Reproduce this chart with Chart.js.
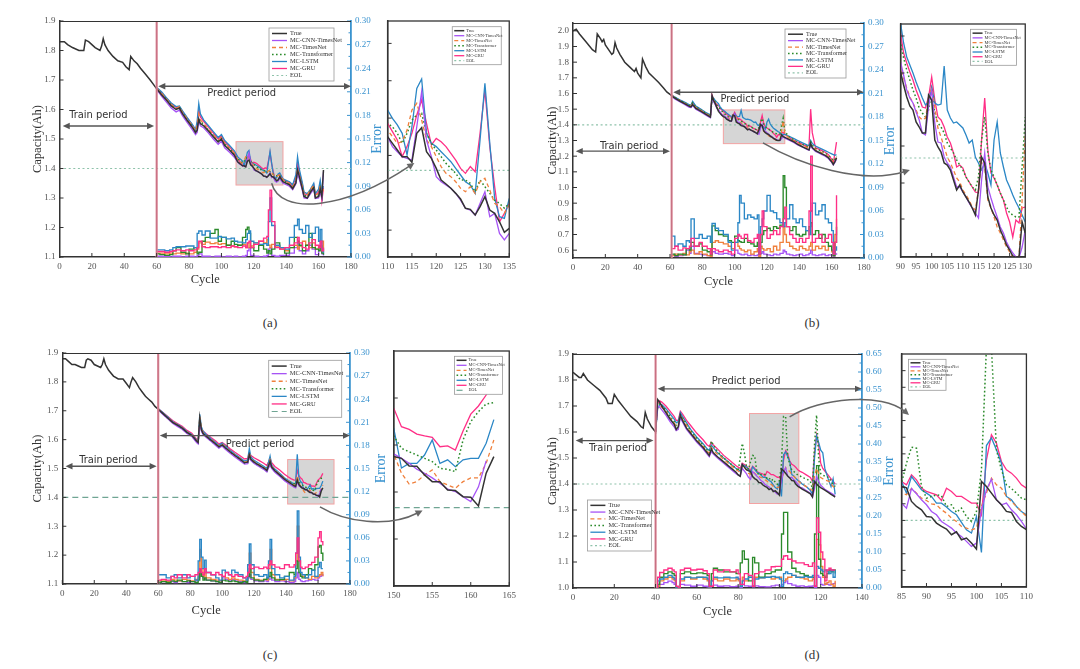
<!DOCTYPE html>
<html><head><meta charset="utf-8">
<script src="https://cdn.jsdelivr.net/npm/chart.js@4.4.1/dist/chart.umd.min.js"></script>
<style>
html,body{margin:0;padding:0;background:#fff;}
#wrap{position:relative;width:1080px;height:669px;overflow:hidden;background:#fff;}
.cap{position:absolute;font-family:"Liberation Serif","Times New Roman",serif;font-size:13px;color:#333;transform:translate(-50%,-50%);}
</style></head><body>
<div id="wrap">
<div class="cap" style="left:270px;top:323px">(a)</div>
<div class="cap" style="left:812px;top:323px">(b)</div>
<div class="cap" style="left:270px;top:655px">(c)</div>
<div class="cap" style="left:812px;top:655px">(d)</div>
</div>
<script>
// ---------------- common ----------------
const EOL = 1.4;
const NAMES = ['True','MC-CNN-TimesNet','MC-TimesNet','MC-Transformer','MC-LSTM','MC-GRU','EOL'];

// ---------------- panel (a) ----------------
const aTrainCyc = [0,3,5,8,12,15,16,18,20,22,25,26,27,28,30,33,36,39,41,43,44,46,48,50,53,56,58];
const aTrainCap = [1.83,1.83,1.82,1.81,1.80,1.80,1.835,1.83,1.82,1.81,1.80,1.815,1.84,1.82,1.80,1.78,1.765,1.76,1.745,1.735,1.78,1.765,1.755,1.74,1.72,1.70,1.685];
const aCyc = [60,63,66,69,72,74,76,79,82,84,85,86,87,89,92,95,98,100,102,105,108,
 110,111,112,113,114,115,116,117,118,119,120,121,122,123,124,125,126,127,128,129,130,131,132,133,134,135,
 136,138,140,142,144,146,147,148,150,151,153,155,157,158,160,161,162,163];
const aTrue = [1.670,1.650,1.632,1.612,1.600,1.605,1.585,1.562,1.540,1.522,1.530,1.568,1.552,1.545,1.527,1.508,1.490,1.500,1.478,1.463,1.445,
 1.4226,1.4181,1.4136,1.4092,1.4092,1.4054,1.4248,1.4286,1.4125,1.4080,1.4013,1.3935,1.3909,1.3880,1.3846,1.3808,1.3746,1.3739,1.3701,1.3757,1.3824,1.3734,1.3712,1.3656,1.3585,1.3612,
 1.372,1.355,1.350,1.345,1.332,1.352,1.395,1.375,1.330,1.305,1.300,1.320,1.335,1.300,1.305,1.330,1.305,1.395];
const aCNN = [1.668,1.645,1.625,1.605,1.592,1.598,1.578,1.555,1.532,1.515,1.522,1.560,1.545,1.538,1.520,1.500,1.482,1.492,1.470,1.455,1.438,
 1.4226,1.4159,1.4125,1.4092,1.4080,1.4069,1.4292,1.4527,1.4203,1.4092,1.3958,1.3924,1.3902,1.3880,1.3846,1.3801,1.3746,1.3734,1.3701,1.3779,1.3857,1.3690,1.3712,1.3578,1.3534,1.3578,
 1.366,1.350,1.345,1.340,1.328,1.348,1.385,1.365,1.325,1.300,1.298,1.315,1.330,1.298,1.300,1.320,1.300,1.390];
const aTN = [1.672,1.655,1.636,1.617,1.604,1.610,1.590,1.567,1.545,1.527,1.545,1.585,1.565,1.552,1.533,1.514,1.496,1.505,1.485,1.470,1.452,
 1.4270,1.4226,1.4181,1.4192,1.4270,1.4404,1.4449,1.4337,1.4203,1.4159,1.4092,1.4025,1.3980,1.3958,1.3924,1.3880,1.3857,1.3891,1.3846,1.3924,1.3947,1.3868,1.3779,1.3757,1.3712,1.3768,
 1.378,1.362,1.356,1.350,1.338,1.360,1.400,1.380,1.338,1.315,1.310,1.330,1.342,1.310,1.315,1.340,1.315,1.330];
const aTF = [1.671,1.653,1.634,1.615,1.602,1.607,1.588,1.565,1.543,1.525,1.535,1.570,1.560,1.550,1.530,1.512,1.494,1.503,1.483,1.468,1.450,
 1.4315,1.4292,1.4248,1.4181,1.4248,1.4337,1.4371,1.4382,1.4248,1.4181,1.4136,1.4092,1.4047,1.4013,1.3980,1.3935,1.3935,1.3913,1.3857,1.3935,1.3891,1.3846,1.3801,1.3779,1.3746,1.3779,
 1.376,1.360,1.354,1.348,1.336,1.358,1.390,1.375,1.335,1.310,1.305,1.325,1.340,1.305,1.310,1.335,1.310,1.320];
const aLSTM = [1.675,1.660,1.640,1.622,1.610,1.612,1.595,1.572,1.550,1.532,1.560,1.620,1.585,1.565,1.545,1.525,1.505,1.515,1.495,1.478,1.460,
 1.4404,1.4348,1.4304,1.4248,1.4103,1.4292,1.4549,1.4612,1.4248,1.4181,1.4159,1.4125,1.4092,1.4058,1.4013,1.3969,1.3924,1.3902,1.3846,1.4203,1.4583,1.4181,1.3813,1.3690,1.3679,1.3813,
 1.385,1.365,1.360,1.355,1.345,1.380,1.440,1.400,1.350,1.320,1.315,1.330,1.350,1.315,1.330,1.360,1.320,1.340];
const aGRU = [1.673,1.657,1.638,1.620,1.607,1.610,1.592,1.570,1.548,1.530,1.550,1.600,1.575,1.560,1.540,1.520,1.500,1.510,1.490,1.473,1.455,
 1.4315,1.4259,1.4203,1.4092,1.4159,1.4248,1.4371,1.4471,1.4315,1.4170,1.4214,1.4192,1.4159,1.4114,1.4069,1.4013,1.3980,1.4025,1.3991,1.4248,1.4538,1.4159,1.3891,1.3656,1.3712,1.3779,
 1.380,1.362,1.357,1.352,1.340,1.370,1.420,1.390,1.345,1.315,1.310,1.325,1.345,1.310,1.320,1.350,1.290,1.335];
const aErrCyc = [60,62,65,68,70,72,75,78,80,83, 85,86,88,90,93,96,98,100,103,106, 108,110,113,115,116,117,118,120,123,126, 128,129,130,131,133,136,139,142,145,147, 148,150,152,154,156,158,160,161,162,163];
const aErrLSTM = [.009,.009,.008,.009,.012,.013,.013,.014,.014,.012, .030,.033,.028,.033,.024,.024,.026,.025,.023,.024, .020,.019,.018,.022,.030,.033,.020,.018,.016,.017, .015,.045,.075,.040,.015,.012,.010,.025,.040,.048, .035,.030,.040,.025,.030,.038,.020,.035,.010,.005];
const aErrGRU = [.007,.007,.006,.007,.008,.009,.008,.009,.008,.009, .012,.020,.013,.012,.013,.013,.012,.013,.012,.014, .013,.012,.014,.012,.018,.020,.012,.016,.020,.024, .026,.060,.085,.045,.012,.010,.012,.015,.018,.025, .018,.012,.010,.018,.022,.015,.012,.020,.008,.012];
const aErrTN = [.005,.005,.004,.005,.004,.005,.004,.005,.004,.006, .010,.018,.016,.019,.017,.018,.016,.017,.015,.014, .013,.015,.016,.012,.018,.012,.014,.018,.020,.018, .022,.015,.012,.016,.014,.010,.008,.012,.015,.010, .014,.020,.015,.012,.018,.010,.014,.012,.020,.006];
const aErrTF = [.004,.003,.002,.003,.008,.012,.006,.004,.010,.012, .004,.006,.020,.025,.030,.035,.020,.025,.015,.020, .016,.015,.025,.035,.038,.030,.012,.008,.015,.010, .005,.008,.004,.010,.018,.012,.005,.012,.025,.020, .015,.008,.015,.030,.012,.010,.008,.014,.005,.003];
const aErrCNN = [.001,.001,.001,0,.001,.001,0,.001,.001,0, .002,.004,.001,.001,0,.001,.001,0,.001,0, .001,0,.001,.002,.008,.012,.002,.001,0,.001, .002,.010,.012,.002,.001,.002,.002,.005,.012,.020, .008,.004,.008,.015,.010,.003,.012,.020,.004,.002];
const aXTicks = [0,20,40,60,80,100,120,140,160,180];
const aYTicks = [1.1,1.2,1.3,1.4,1.5,1.6,1.7,1.8,1.9];
const aY2Ticks = [0,0.03,0.06,0.09,0.12,0.15,0.18,0.21,0.24,0.27,0.30];
const aInsetX = [110,135], aInsetXTicks = [110,115,120,125,130,135];
const aInsetY = [1.342,1.50], aInsetYTicks = [1.36,1.385,1.41,1.435,1.46,1.485];
const aZoomBox = [109,138,1.344,1.491];
const aPredStart = 60;

// ---------------- panel (b) ----------------
const bTrainCyc = [0,2,4,8,12,14,15,17,18,19,20,22,24,25,26,27,29,32,35,38,39,40,42,43,45,47,50,53,56,58,60];
const bTrainCap = [2.00,2.01,1.98,1.93,1.88,1.865,1.98,1.95,1.93,1.945,1.91,1.88,1.85,1.86,1.925,1.89,1.85,1.80,1.77,1.74,1.76,1.73,1.70,1.82,1.77,1.73,1.70,1.67,1.635,1.61,1.595];
const bCyc = [61,63,66,69,72,73,74,76,79,82,84,85,86,87,88,89,
 90,91,92,93,94,95,96,97,98,99,100,101,102,103,104,105,106,107,108,109,110,111,112,113,114,115,116,117,118,119,120,121,122,123,124,125,126,127,128,129,130,
 131,133,135,137,139,141,143,145,146,147,148,150,152,154,156,158,160,161,162,163];
const bTrue = [1.585,1.570,1.552,1.535,1.518,1.515,1.530,1.505,1.487,1.468,1.455,1.450,1.588,1.555,1.535,1.510,
 1.486,1.473,1.461,1.452,1.448,1.436,1.431,1.425,1.425,1.463, 1.458,1.418,1.411,1.406,1.395,1.393,1.388,1.378,1.368,1.373, 1.366,1.361,1.356,1.350,1.343,1.368,1.401,1.395,1.361,1.350, 1.343,1.338,1.328,1.321,1.313,1.308,1.302,1.300,1.301,1.336, 1.325,
 1.32,1.31,1.30,1.29,1.275,1.265,1.255,1.245,1.24,1.28,1.255,1.235,1.225,1.215,1.205,1.19,1.165,1.147,1.165,1.19];
const bCNN = [1.582,1.565,1.548,1.530,1.512,1.510,1.525,1.500,1.482,1.463,1.450,1.445,1.575,1.548,1.528,1.505,
 1.496,1.483,1.468,1.460,1.455,1.446,1.438,1.425,1.423,1.451, 1.468,1.435,1.416,1.415,1.401,1.395,1.391,1.381,1.371,1.371, 1.366,1.361,1.355,1.350,1.345,1.340,1.378,1.405,1.371,1.360, 1.350,1.341,1.331,1.325,1.316,1.310,1.305,1.301,1.300,1.311, 1.328,
 1.315,1.305,1.295,1.285,1.272,1.262,1.252,1.242,1.238,1.27,1.25,1.23,1.22,1.21,1.20,1.185,1.16,1.145,1.16,1.18];
const bTN = [1.588,1.572,1.555,1.538,1.522,1.520,1.535,1.510,1.492,1.472,1.460,1.455,1.575,1.56,1.54,1.515,
 1.493,1.480,1.470,1.461,1.455,1.448,1.441,1.438,1.440,1.458, 1.470,1.451,1.430,1.421,1.411,1.401,1.395,1.388,1.380,1.376, 1.368,1.363,1.358,1.351,1.348,1.368,1.398,1.391,1.358,1.350, 1.341,1.331,1.325,1.318,1.311,1.306,1.301,1.300,1.301,1.358, 1.425,
 1.345,1.32,1.305,1.295,1.283,1.273,1.263,1.255,1.25,1.275,1.262,1.242,1.232,1.222,1.212,1.197,1.175,1.16,1.175,1.19];
const bTF = [1.590,1.575,1.558,1.540,1.525,1.522,1.540,1.515,1.495,1.475,1.462,1.458,1.56,1.565,1.545,1.525,
 1.515,1.500,1.488,1.478,1.468,1.460,1.450,1.445,1.441,1.448, 1.468,1.445,1.435,1.431,1.425,1.415,1.410,1.405,1.398,1.393, 1.388,1.381,1.376,1.371,1.368,1.381,1.418,1.441,1.405,1.388, 1.381,1.373,1.365,1.358,1.351,1.345,1.343,1.341,1.341,1.391, 1.441,
 1.36,1.33,1.315,1.30,1.29,1.28,1.27,1.262,1.258,1.29,1.27,1.25,1.24,1.23,1.22,1.205,1.185,1.17,1.18,1.20];
const bLSTM = [1.590,1.578,1.56,1.545,1.528,1.525,1.55,1.52,1.50,1.48,1.468,1.462,1.575,1.57,1.555,1.545,
 1.535,1.515,1.501,1.493,1.485,1.476,1.468,1.460,1.453,1.456, 1.471,1.455,1.453,1.454,1.492,1.448,1.440,1.435,1.436,1.433, 1.430,1.423,1.415,1.418,1.401,1.395,1.388,1.395,1.385,1.373, 1.418,1.436,1.405,1.391,1.378,1.371,1.363,1.356,1.350,1.343, 1.336,
 1.34,1.33,1.32,1.31,1.30,1.29,1.28,1.27,1.268,1.30,1.28,1.265,1.255,1.245,1.235,1.225,1.215,1.21,1.205,1.21];
const bGRU = [1.588,1.574,1.557,1.54,1.522,1.52,1.545,1.515,1.495,1.475,1.46,1.455,1.59,1.56,1.54,1.53,
 1.525,1.505,1.495,1.486,1.478,1.468,1.460,1.451,1.450,1.461, 1.481,1.458,1.441,1.438,1.431,1.421,1.415,1.405,1.391,1.393, 1.390,1.381,1.376,1.371,1.366,1.365,1.418,1.460,1.408,1.385, 1.380,1.373,1.365,1.358,1.345,1.336,1.321,1.338,1.335,1.350, 1.351,
 1.34,1.325,1.31,1.30,1.29,1.28,1.27,1.262,1.27,1.50,1.35,1.255,1.245,1.235,1.225,1.21,1.18,1.155,1.22,1.29];
const bErrCyc = [61,63,65,68,70,72,73,75,78,80, 83,85,86,88,90,93,96,98,100,102, 103,104,106,108,110,112,114,115,116,117, 118,120,122,124,126,128,130,131,132,134, 136,138,140,142,144,146,147,148,150,152, 154,156,158,160,161,162,163];
const bErrLSTM = [.028,.015,.018,.015,.022,.020,.050,.025,.030,.025, .028,.020,.044,.038,.035,.030,.020,.010,.020,.045, .080,.070,.050,.055,.052,.050,.055,.005,.040,.050, .060,.080,.060,.058,.050,.045,.040,.045,.050,.068, .050,.045,.050,.040,.035,.030,.060,.070,.055,.060, .068,.050,.045,.035,.005,.010,.015];
const bErrGRU = [.012,.015,.010,.013,.012,.015,.025,.015,.020,.015, .012,.005,.012,.010,.008,.010,.008,.005,.025,.030, .028,.025,.030,.022,.020,.025,.030,.005,.030,.060, .040,.025,.030,.035,.030,.040,.050,.065,.040,.030, .025,.020,.025,.020,.025,.060,.130,.020,.025,.030, .020,.025,.030,.020,.005,.020,.080];
const bErrTF = [.005,.003,.005,.004,.012,.010,.020,.015,.018,.010, .008,.004,.041,.035,.030,.028,.022,.020,.028,.022, .021,.020,.025,.020,.018,.015,.020,.005,.020,.030, .035,.038,.035,.040,.038,.042,.105,.090,.040,.035, .040,.030,.028,.030,.035,.040,.045,.030,.035,.025, .030,.020,.015,.010,.003,.020,.040];
const bErrTN = [.003,.005,.004,.006,.004,.008,.010,.005,.008,.005, .003,.002,.020,.022,.020,.018,.015,.012,.020,.015, .012,.010,.008,.010,.005,.008,.012,.002,.015,.012, .010,.012,.008,.015,.010,.020,.040,.030,.020,.015, .012,.010,.015,.012,.010,.015,.020,.010,.015,.012, .015,.010,.015,.008,.003,.030,.050];
const bErrCNN = [.004,.002,.003,.004,.010,.006,.015,.006,.005,.004, .003,.002,.008,.006,.005,.006,.005,.003,.010,.006, .005,.004,.005,.003,.004,.003,.004,.002,.006,.008, .005,.004,.003,.005,.004,.006,.010,.008,.005,.004, .003,.004,.005,.003,.004,.006,.010,.004,.003,.004, .005,.003,.004,.003,.002,.005,.006];
const bXTicks = [0,20,40,60,80,100,120,140,160,180];
const bYTicks = [0.6,0.7,0.8,0.9,1.0,1.1,1.2,1.3,1.4,1.5,1.6,1.7,1.8,1.9,2.0];
const bYRange = [0.55,2.05];
const bY2Ticks = [0,0.03,0.06,0.09,0.12,0.15,0.18,0.21,0.24,0.27,0.30];
const bInsetX = [90,130], bInsetXTicks = [90,95,100,105,110,115,120,125,130];
const bInsetY = [1.301,1.534], bInsetYTicks = [1.339,1.375,1.412,1.449,1.485,1.522];
const bZoomBox = [93,131,1.28,1.495];
const bPredStart = 61;

// ---------------- panel (c) ----------------
const cTrainCyc = [0,2,4,6,8,10,12,14,15,16,18,20,22,24,25,26,27,29,32,35,38,40,42,43,44,46,48,50,52,54,56,58];
const cTrainCap = [1.88,1.88,1.87,1.86,1.86,1.855,1.85,1.85,1.875,1.88,1.875,1.86,1.855,1.85,1.86,1.88,1.86,1.84,1.82,1.81,1.81,1.795,1.78,1.80,1.815,1.80,1.78,1.765,1.75,1.74,1.73,1.715];
const cCyc = [60,63,66,69,72,75,78,81,84,85,86,87,88,90,93,96,98,100,102,105,108,111,114,116,117,118,120,123,126,128,130,131,133,136,139,141,143,145,146,147,148,149,
 150,151,152,153,154,155,156,157,158,159,160,161,162,163];
const cTrue = [1.705,1.69,1.675,1.66,1.65,1.64,1.625,1.615,1.595,1.59,1.675,1.635,1.622,1.612,1.598,1.585,1.575,1.582,1.572,1.558,1.545,1.533,1.52,1.522,1.548,1.532,1.522,1.512,1.502,1.493,1.525,1.505,1.492,1.478,1.463,1.455,1.448,1.44,1.438,1.46,1.445,1.438,
 1.4326,1.4315,1.4266,1.4264,1.4209,1.4166,1.4166,1.4113,1.4109,1.407,1.4066,1.4011,1.422,1.4326];
const cCNN = [1.703,1.687,1.672,1.657,1.646,1.636,1.621,1.611,1.59,1.585,1.66,1.63,1.618,1.608,1.594,1.58,1.57,1.578,1.567,1.553,1.54,1.528,1.515,1.517,1.54,1.527,1.517,1.507,1.497,1.488,1.515,1.5,1.487,1.473,1.458,1.45,1.443,1.435,1.433,1.455,1.44,1.436,
 1.4343,1.4315,1.4283,1.4245,1.422,1.419,1.4156,1.4118,1.4103,1.407,1.4039,1.4133,1.4299,null];
const cTN = [1.706,1.69,1.676,1.661,1.651,1.641,1.626,1.616,1.597,1.592,1.68,1.64,1.625,1.614,1.6,1.587,1.577,1.585,1.574,1.56,1.547,1.535,1.522,1.525,1.555,1.535,1.524,1.514,1.504,1.495,1.53,1.508,1.494,1.48,1.465,1.457,1.45,1.442,1.442,1.475,1.45,1.44,
 1.4343,1.422,1.4151,1.4166,1.4209,1.4241,1.4166,1.4145,1.4124,1.4166,1.419,1.419,1.4283,1.4432];
const cTF = [1.704,1.689,1.674,1.659,1.649,1.638,1.623,1.613,1.594,1.589,1.665,1.632,1.62,1.61,1.596,1.583,1.573,1.58,1.57,1.556,1.543,1.531,1.518,1.52,1.54,1.53,1.52,1.51,1.50,1.491,1.515,1.503,1.49,1.476,1.462,1.456,1.452,1.448,1.447,1.465,1.452,1.448,
 1.4458,1.4379,1.4357,1.4336,1.4315,1.4294,1.4251,1.4245,1.423,1.4432,1.4549,1.4613,1.4662,1.467];
const cLSTM = [1.708,1.693,1.678,1.663,1.653,1.643,1.628,1.618,1.598,1.595,1.688,1.645,1.63,1.618,1.603,1.59,1.58,1.588,1.578,1.563,1.55,1.538,1.526,1.53,1.569,1.54,1.528,1.518,1.508,1.5,1.543,1.512,1.498,1.484,1.468,1.46,1.453,1.446,1.45,1.549,1.47,1.455,
 1.4507,1.4253,1.4283,1.4283,1.4336,1.4432,1.4283,1.4305,1.4262,1.4305,1.4315,1.4315,1.4411,1.4562];
const cGRU = [1.707,1.694,1.68,1.666,1.656,1.646,1.632,1.622,1.602,1.598,1.645,1.64,1.63,1.62,1.607,1.595,1.585,1.59,1.582,1.568,1.556,1.545,1.533,1.535,1.555,1.545,1.537,1.528,1.518,1.51,1.535,1.52,1.507,1.495,1.48,1.472,1.465,1.46,1.46,1.494,1.475,1.468,
 1.4634,1.4517,1.45,1.447,1.4458,1.4449,1.4389,1.4394,1.4368,1.4489,1.4597,1.4649,1.4719,1.483];
const cErrCyc = [60,62,65,68,70, 72,75,78,80,83, 85,86,87,88,89, 90,93,96,98,100, 102,104,106,108,110, 113,115,116,117,118, 120,123,126,128,129, 130,131,133,136,139, 142,145,146,147,148, 149,150,152,154,156, 158,160,161,162,163];
const cErrLSTM = [.012,.012,.008,.010,.012, .008,.012,.008,.010,.005, .030,.058,.035,.020,.031, .015,.012,.008,.005,.018, .015,.012,.018,.015,.012, .008,.005,.025,.052,.025, .012,.010,.012,.008,.030, .058,.020,.012,.008,.010, .005,.010,.040,.095,.035, .015,.012,.008,.012,.018, .010,.022,.028,.020,.020];
const cErrGRU = [.005,.006,.005,.010,.008, .012,.008,.012,.010,.012, .015,.020,.015,.012,.020, .015,.012,.015,.012,.010, .015,.012,.010,.012,.010, .008,.010,.015,.025,.020, .022,.020,.022,.020,.025, .030,.025,.022,.020,.025, .022,.025,.040,.060,.030, .022,.020,.022,.025,.028, .035,.060,.068,.055,.050];
const cErrTF = [.002,.003,.002,.004,.003, .005,.003,.004,.003,.002, .005,.020,.010,.005,.008, .005,.004,.003,.002,.005, .004,.003,.004,.003,.002, .003,.002,.010,.020,.008, .005,.004,.006,.008,.010, .015,.008,.005,.006,.010, .015,.012,.020,.030,.015, .010,.008,.012,.020,.018, .025,.048,.050,.040,.030];
const cErrTN = [.004,.005,.003,.006,.005, .004,.006,.005,.004,.006, .010,.045,.020,.010,.015, .008,.006,.005,.004,.010, .008,.006,.008,.006,.005, .004,.005,.015,.040,.015, .006,.005,.006,.005,.020, .045,.012,.006,.005,.006, .004,.008,.030,.075,.030, .012,.010,.008,.006,.010, .008,.010,.012,.015,.010];
const cErrCNN = [.002,.003,.004,.003,.002, .004,.003,.002,.003,.004, .008,.015,.012,.008,.006, .005,.004,.003,.002,.008, .006,.004,.006,.004,.003, .002,.003,.008,.012,.006, .004,.003,.004,.003,.006, .010,.005,.003,.004,.003, .002,.003,.008,.015,.006, .004,.003,.004,.005,.006, .005,.008,.010,.012,.010];
const cXTicks = [0,20,40,60,80,100,120,140,160,180];
const cYTicks = [1.1,1.2,1.3,1.4,1.5,1.6,1.7,1.8,1.9];
const cY2Ticks = [0,0.03,0.06,0.09,0.12,0.15,0.18,0.21,0.24,0.27,0.30];
const cInsetX = [150,165], cInsetXTicks = [150,155,160,165];
const cInsetY = [1.35,1.50], cInsetYTicks = [1.38,1.41,1.44,1.47];
const cZoomBox = [141,170,1.377,1.531];
const cPredStart = 60;

// ---------------- panel (d) ----------------
const dTrainCyc = [0,3,4,5,7,10,13,16,17,19,20,22,25,28,31,33,34,35,36,38];
const dTrainCap = [1.83,1.81,1.81,1.825,1.80,1.78,1.76,1.73,1.71,1.71,1.745,1.72,1.69,1.66,1.64,1.62,1.615,1.675,1.65,1.62];
const dCyc = [40,41,42,43,45,47,49,50,51,52,53,55,57,60,63,65,66,67,68,70,73,76,79,80,81,82,83,84,
 85,86,87,88,89,90,91,92,93,94,95,96,97,98,99,100,101,102,103,104,105,106,107,108,109,110,
 111,113,115,116,117,118,119,120,121,122,124,125,126,127];
const dTrue = [1.60,1.725,1.715,1.70,1.675,1.65,1.63,1.61,1.62,1.665,1.645,1.615,1.595,1.565,1.54,1.52,1.51,1.535,1.52,1.505,1.485,1.465,1.445,1.435,1.43,1.475,1.465,1.455,
 1.451,1.449,1.4285,1.421,1.416,1.406,1.405,1.396,1.391,1.387,1.3785,1.383,1.371,1.3735,1.366,1.357,1.4585,1.451,1.441,1.431,1.4235,1.4135,1.412,1.3985,1.391,1.386,
 1.38,1.372,1.362,1.35,1.41,1.40,1.392,1.386,1.381,1.376,1.366,1.36,1.355,1.35];
const dCNN = [1.60,1.70,1.695,1.685,1.665,1.64,1.62,1.605,1.61,1.655,1.64,1.61,1.59,1.56,1.535,1.515,1.505,1.525,1.515,1.50,1.48,1.46,1.44,1.435,1.43,1.46,1.45,1.44,
 1.426,1.4185,1.448,1.44,1.431,1.4235,1.4135,1.4085,1.3985,1.3935,1.3885,1.381,1.376,1.3685,1.361,1.366,1.416,1.446,1.462,1.431,1.4235,1.426,1.416,1.4085,1.3985,1.3875,
 1.385,1.375,1.365,1.35,1.38,1.43,1.41,1.395,1.388,1.38,1.37,1.365,1.36,1.355];
const dTN = [1.60,1.695,1.70,1.695,1.68,1.655,1.635,1.62,1.625,1.665,1.65,1.625,1.60,1.57,1.545,1.525,1.52,1.54,1.53,1.515,1.495,1.475,1.455,1.45,1.445,1.47,1.465,1.455,
 1.441,1.4385,1.448,1.441,1.4335,1.43,1.425,1.4235,1.416,1.411,1.4035,1.3985,1.391,1.3885,1.386,1.3885,1.421,1.441,1.4635,1.4535,1.4485,1.436,1.4285,1.421,1.4135,1.406,
 1.40,1.39,1.38,1.375,1.43,1.46,1.44,1.425,1.42,1.415,1.41,1.40,1.39,1.385];
const dTF = [1.60,1.70,1.71,1.70,1.685,1.66,1.64,1.625,1.63,1.665,1.655,1.63,1.605,1.575,1.55,1.53,1.525,1.565,1.55,1.525,1.50,1.48,1.46,1.45,1.50,1.556,1.52,1.47,
 1.456,1.486,1.51,1.5085,1.451,1.4335,1.436,1.4385,1.437,1.421,1.4235,1.412,1.4185,1.406,1.3985,1.4135,1.476,1.66,1.66,1.506,1.476,1.4535,1.448,1.441,1.4335,1.431,
 1.425,1.42,1.41,1.38,1.55,1.665,1.50,1.44,1.435,1.43,1.425,1.41,1.40,1.39];
const dLSTM = [1.60,1.69,1.705,1.705,1.69,1.67,1.65,1.635,1.64,1.675,1.66,1.635,1.61,1.58,1.555,1.535,1.53,1.55,1.54,1.52,1.50,1.48,1.46,1.455,1.45,1.475,1.47,1.465,
 1.4585,1.441,1.466,1.456,1.446,1.441,1.436,1.426,1.426,1.42,1.4135,1.4085,1.397,1.386,1.381,1.406,1.352,1.5125,1.524,1.506,1.486,1.436,1.431,1.421,1.4135,1.4085,
 1.40,1.39,1.375,1.36,1.50,1.585,1.56,1.53,1.52,1.46,1.41,1.39,1.42,1.36];
const dGRU = [1.60,1.71,1.72,1.715,1.70,1.68,1.66,1.645,1.645,1.68,1.67,1.645,1.625,1.595,1.57,1.55,1.545,1.56,1.55,1.535,1.51,1.49,1.47,1.465,1.46,1.48,1.475,1.47,
 1.4585,1.4535,1.4685,1.461,1.4485,1.4435,1.441,1.4385,1.43,1.4485,1.4435,1.436,1.436,1.431,1.426,1.426,1.4085,1.491,1.5285,1.516,1.4885,1.476,1.471,1.4635,1.4535,1.4485,
 1.445,1.435,1.425,1.41,1.52,1.59,1.55,1.48,1.46,1.45,1.43,1.42,1.41,1.40];
const dErrCyc = [40,41,42,44,46, 48,49,50,51,52, 54,57,60,63,65, 66,67,68,70,73, 76,79,80,81,82, 83,85,87,88,90, 93,96,98,100,101, 102,103,104,106,108, 110,112,114,116,117, 118,119,120,121,122, 123,124,125,126,127];
const dErrGRU = [0,.030,.043,.050,.055, .050,.045,.005,0,.050, .055,.050,.052,.048,.040, .005,.005,.050,.045,.050, .045,.050,.040,.010,.010, .040,.035,.005,.040,.045, .050,.059,.060,.060,.080, .089,.090,.080,.075,.070, .070,.065,.060,.070,.005, .195,.155,.100,.080,.020, .050,.055,.050,.050,.050];
const dErrTF = [0,.010,.030,.040,.045, .040,.035,.002,0,.040, .045,.040,.042,.040,.035, .005,.040,.055,.050,.045, .045,.040,.040,.070,.103, .080,.020,.085,.070,.030, .040,.045,.050,.050,.150, .210,.210,.100,.055,.045, .040,.035,.030,.030,.150, .340,.080,.040,.035,.030, .040,.050,.045,.050,.040];
const dErrTN = [0,.005,.020,.025,.030, .025,.020,0,0,.020, .030,.025,.030,.025,.020, .003,.020,.025,.020,.025, .020,.025,.020,.005,.030, .020,.030,.005,.030,.028, .030,.025,.028,.030,.020, .020,.025,.030,.035,.030, .028,.025,.020,.025,.005, .135,.120,.060,.030,.010, .015,.020,.010,.005,.020];
const dErrLSTM = [0,.020,.025,.030,.035, .030,.025,0,0,.025, .030,.028,.030,.030,.025, .003,.020,.030,.028,.030, .028,.030,.025,.005,.020, .025,.030,.005,.025,.028, .030,.032,.030,.025,.005, .040,.045,.040,.035,.030, .030,.032,.030,.035,.005, .060,.055,.050,.045,.050, .045,.040,.050,.030,.050];
const dErrCNN = [0,.005,.010,.015,.019, .015,.010,0,0,.010, .008,.005,.008,.005,.003, .002,.005,.008,.005,.006, .004,.005,.003,.002,.010, .006,.005,.003,.006,.004, .003,.006,.008,.005,.010, .015,.020,.012,.008,.005, .006,.004,.005,.006,.002, .035,.030,.010,.008,.012, .010,.008,.010,.012,.015];
const dXTicks = [0,20,40,60,80,100,120,140];
const dYTicks = [1.0,1.1,1.2,1.3,1.4,1.5,1.6,1.7,1.8,1.9];
const dY2Ticks = [0,0.05,0.10,0.15,0.20,0.25,0.30,0.35,0.40,0.45,0.50,0.55,0.60,0.65];
const dInsetX = [85,110], dInsetXTicks = [85,90,95,100,105,110];
const dInsetY = [1.30,1.65], dInsetYTicks = [1.325,1.35,1.375,1.40,1.425,1.45,1.475,1.50,1.525,1.55,1.575,1.60,1.625];
const dZoomBox = [85.5,109.4,1.325,1.671];
const dPredStart = 40;

// ---------------- styling ----------------
const SERIF = '"Liberation Serif","Times New Roman",serif';
const SANS = '"Liberation Sans Narrow","DejaVu Sans Condensed","Liberation Sans",sans-serif';
const COL = {true:'#333333', cnn:'#a653f5', tn:'#f0803c', tf:'#2b8a2b', lstm:'#2b87c6', gru:'#ff2e86', eol:'#8ec2aa', blue:'#3a93cf'};

function zip(xs, ys){ const out=[]; for(let i=0;i<xs.length;i++){ if(ys[i]!==null && ys[i]!==undefined) out.push({x:xs[i], y:ys[i]}); } return out; }

function capSets(P, xr, eolDash, eolCol){
  return [
    {label:NAMES[0], leg:true, data:zip(P.trainCyc.concat(P.cyc), P.trainCap.concat(P.tru)), borderColor:COL.true, borderWidth:1.5},
    {label:NAMES[1], leg:true, data:zip(P.cyc,P.cnn), borderColor:COL.cnn, borderWidth:1.3},
    {label:NAMES[2], leg:true, data:zip(P.cyc,P.tn), borderColor:COL.tn, borderWidth:1.3, borderDash:[4,3]},
    {label:NAMES[3], leg:true, data:zip(P.cyc,P.tf), borderColor:COL.tf, borderWidth:1.5, borderDash:[1.6,2.4]},
    {label:NAMES[4], leg:true, data:zip(P.cyc,P.lstm), borderColor:COL.lstm, borderWidth:1.3},
    {label:NAMES[5], leg:true, data:zip(P.cyc,P.gru), borderColor:COL.gru, borderWidth:1.3},
    {label:NAMES[6], leg:true, data:[{x:xr[0],y:EOL},{x:xr[1],y:EOL}], borderColor:eolCol, borderWidth:1.2, borderDash:eolDash}
  ];
}
function errSets(E){
  const mk=(v,c)=>({label:'', data:zip(E.cyc,v), borderColor:c, borderWidth:1.35, stepped:true, yAxisID:'y2'});
  return [mk(E.gru,COL.gru), mk(E.lstm,COL.lstm), mk(E.tf,COL.tf), mk(E.tn,COL.tn), mk(E.cnn,COL.cnn)];
}

function head(ctx,x,y,ang,len,w){
  ctx.beginPath(); ctx.moveTo(x,y);
  ctx.lineTo(x-len*Math.cos(ang)+w*Math.sin(ang), y-len*Math.sin(ang)-w*Math.cos(ang));
  ctx.lineTo(x-len*Math.cos(ang)-w*Math.sin(ang), y-len*Math.sin(ang)+w*Math.cos(ang));
  ctx.closePath(); ctx.fill();
}

const decoPlugin = {
  id:'deco',
  beforeDatasetsDraw(chart, args, o){
    if(!o || !o.rect) return;
    const ctx=chart.ctx, sx=chart.scales.x, sy=chart.scales.y, r=o.rect;
    const x0=sx.getPixelForValue(r[0]), x1=sx.getPixelForValue(r[1]), y0=sy.getPixelForValue(r[3]), y1=sy.getPixelForValue(r[2]);
    ctx.save(); ctx.fillStyle='rgba(196,196,196,0.7)'; ctx.fillRect(x0,y0,x1-x0,y1-y0);
    ctx.strokeStyle='#f3a3a3'; ctx.lineWidth=1; ctx.strokeRect(x0,y0,x1-x0,y1-y0); ctx.restore();
  },
  afterDatasetsDraw(chart, args, o){
    if(!o) return;
    const ctx=chart.ctx, a=chart.chartArea, sx=chart.scales.x, sy=chart.scales.y;
    ctx.save();
    if(o.vline!==undefined){
      const px=sx.getPixelForValue(o.vline);
      ctx.strokeStyle='#dc8d9c'; ctx.lineWidth=2.2; ctx.beginPath(); ctx.moveTo(px,a.top); ctx.lineTo(px,a.bottom); ctx.stroke();
      ctx.strokeStyle='#b85a6e'; ctx.lineWidth=0.6; ctx.beginPath(); ctx.moveTo(px,a.top); ctx.lineTo(px,a.bottom); ctx.stroke();
    }
    (o.arrows||[]).forEach(ar=>{
      const x0=sx.getPixelForValue(ar[0]), x1=sx.getPixelForValue(ar[1]), y=sy.getPixelForValue(ar[2]);
      ctx.strokeStyle='#555'; ctx.fillStyle='#555'; ctx.lineWidth=1.4;
      ctx.beginPath(); ctx.moveTo(x0+4,y); ctx.lineTo(x1-4,y); ctx.stroke();
      head(ctx,x1,y,0,7,3.2); head(ctx,x0,y,Math.PI,7,3.2);
      ctx.fillStyle='#333'; ctx.font='11px '+SANS; ctx.textAlign='center'; ctx.textBaseline='middle';
      ctx.fillText(ar[3], sx.getPixelForValue(ar[4]), sy.getPixelForValue(ar[5]));
    });
    ctx.restore();
  },
  afterDraw(chart, args, o){
    if(!o) return;
    const ctx=chart.ctx, a=chart.chartArea;
    ctx.save();
    const sx=chart.scales.x, sy=chart.scales.y, s2=chart.scales.y2;
    ctx.lineWidth=1; ctx.strokeStyle='#333';
    ctx.beginPath();
    sx.ticks.forEach(t=>{ const p=sx.getPixelForValue(t.value); ctx.moveTo(p,a.bottom); ctx.lineTo(p,a.bottom-4); });
    sy.ticks.forEach(t=>{ const p=sy.getPixelForValue(t.value); ctx.moveTo(a.left,p); ctx.lineTo(a.left+4,p); });
    ctx.stroke();
    if(s2){
      ctx.strokeStyle=COL.blue; ctx.beginPath();
      const tv=s2.ticks.map(t=>t.value);
      tv.forEach((v,i)=>{ const p=s2.getPixelForValue(v); ctx.moveTo(a.right,p); ctx.lineTo(a.right-4,p);
        if(i<tv.length-1){ const m=s2.getPixelForValue((v+tv[i+1])/2); ctx.moveTo(a.right,m); ctx.lineTo(a.right-2.5,m); } });
      ctx.stroke();
    }
    ctx.strokeStyle='#333'; ctx.lineWidth=1; ctx.setLineDash([]);
    if(o.frame==='top'){ ctx.beginPath(); ctx.moveTo(a.left,a.top+0.5); ctx.lineTo(a.right,a.top+0.5); ctx.stroke(); }
    if(o.frame==='box'){ ctx.lineWidth=1.3; ctx.strokeRect(a.left,a.top,a.right-a.left,a.bottom-a.top); }
    if(o.errX!==undefined){
      ctx.fillStyle=COL.blue; ctx.font='14px '+SERIF; ctx.textAlign='center'; ctx.textBaseline='middle';
      ctx.translate(o.errX,(a.top+a.bottom)/2); ctx.rotate(-Math.PI/2); ctx.fillText('Error',0,0);
      ctx.setTransform(1,0,0,1,0,0);
    }
    const L=o.legend;
    if(L){
      const bx = L.anchor[1]==='r' ? a.right-L.dx-L.w : a.left+L.dx;
      const by = L.anchor[0]==='t' ? a.top+L.dy : a.bottom-L.dy-L.h;
      ctx.fillStyle='#fff'; ctx.fillRect(bx,by,L.w,L.h);
      ctx.strokeStyle='#9a9a9a'; ctx.lineWidth=0.8; ctx.strokeRect(bx,by,L.w,L.h);
      const sets=chart.data.datasets.filter(d=>d.leg);
      const row=(L.h-2*L.py)/sets.length;
      sets.forEach((d,i)=>{
        const yy=by+L.py+row*(i+0.5);
        ctx.strokeStyle=d.borderColor; ctx.lineWidth=Math.max(1,d.borderWidth); ctx.setLineDash(d.borderDash||[]);
        ctx.beginPath(); ctx.moveTo(bx+L.px,yy); ctx.lineTo(bx+L.px+L.len,yy); ctx.stroke();
        ctx.setLineDash([]);
        ctx.fillStyle='#333'; ctx.font=L.font+'px '+SERIF; ctx.textAlign='left'; ctx.textBaseline='middle';
        ctx.fillText(d.label, bx+L.px+L.len+L.gap, yy);
      });
    }
    ctx.restore();
  }
};

function makeChart(spec){
  const [L,T,R,B]=spec.rect, [pl,pr,pt,pb]=spec.pad;
  const left=L-pl, top=T-pt;
  const W=Math.round(R-L+pl+pr), H=Math.round(B-T+pt+pb);
  const cv=document.createElement('canvas');
  cv.width=W; cv.height=H;
  cv.style.cssText='position:absolute;left:'+left+'px;top:'+top+'px;width:'+W+'px;height:'+H+'px;';
  document.getElementById('wrap').appendChild(cv);
  const tsz=12.5, lh=tsz*1.2;
  const tickFont={family:SERIF,size:9};
  const setTicks=arr=>s=>{ s.ticks=arr.map(v=>({value:v})); };
  const scales={
    x:{type:'linear', min:spec.x.min, max:spec.x.max, afterBuildTicks:setTicks(spec.x.ticks), afterFit:s=>{s.height=pb;},
       ticks:{font:tickFont, color:'#555', autoSkip:false, maxRotation:0, padding:4, callback:v=>v.toFixed(0)},
       grid:{drawOnChartArea:false, drawTicks:false},
       border:{display:true, color:'#333', width:1.5},
       title: spec.titles ? {display:true, text:'Cycle', font:{family:SERIF,size:tsz}, color:'#333', padding:{top:0,bottom:(top+H)-spec.titles.x-lh/2}} : {display:false}},
    y:{type:'linear', min:spec.y.min, max:spec.y.max, afterBuildTicks:setTicks(spec.y.ticks), afterFit:s=>{s.width=pl;},
       ticks:{display:spec.y.labels!==false, font:tickFont, color:'#555', autoSkip:false, padding:4, callback:v=>v.toFixed(1)},
       grid:{drawOnChartArea:false, drawTicks:false},
       border:{display:true, color:'#333', width:1.5},
       title: spec.titles ? {display:true, text:'Capacity(Ah)', font:{family:SERIF,size:tsz}, color:'#333', padding:{top:spec.titles.y-left-lh/2,bottom:0}} : {display:false}}
  };
  if(spec.y2){
    scales.y2={type:'linear', position:'right', min:spec.y2.min, max:spec.y2.max, afterBuildTicks:setTicks(spec.y2.ticks), afterFit:s=>{s.width=pr;},
       ticks:{font:tickFont, color:COL.blue, autoSkip:false, padding:4, callback:v=>v.toFixed(2)},
       grid:{drawOnChartArea:false, drawTicks:false},
       border:{display:true, color:COL.blue, width:1.8}};
  }
  const deco=Object.assign({}, spec.deco);
  if(spec.titles && spec.titles.e!==undefined) deco.errX=spec.titles.e-left;
  const ch=new Chart(cv,{
    type:'line',
    data:{datasets:spec.datasets},
    options:{responsive:false, animation:false, events:[], devicePixelRatio:1,
      layout:{autoPadding:false, padding:{top:pt,left:0,right:spec.y2?0:pr,bottom:0}},
      elements:{point:{radius:0}, line:{tension:0}},
      plugins:{legend:{display:false}, tooltip:{enabled:false}, deco:deco},
      scales:scales},
    plugins:[decoPlugin]
  });
  ch._left=left; ch._top=top;
  return ch;
}

const PA={trainCyc:aTrainCyc,trainCap:aTrainCap,cyc:aCyc,tru:aTrue,cnn:aCNN,tn:aTN,tf:aTF,lstm:aLSTM,gru:aGRU};
const EA={cyc:aErrCyc,gru:aErrGRU,lstm:aErrLSTM,tf:aErrTF,tn:aErrTN,cnn:aErrCNN};
const PB={trainCyc:bTrainCyc,trainCap:bTrainCap,cyc:bCyc,tru:bTrue,cnn:bCNN,tn:bTN,tf:bTF,lstm:bLSTM,gru:bGRU};
const EB={cyc:bErrCyc,gru:bErrGRU,lstm:bErrLSTM,tf:bErrTF,tn:bErrTN,cnn:bErrCNN};
const PC={trainCyc:cTrainCyc,trainCap:cTrainCap,cyc:cCyc,tru:cTrue,cnn:cCNN,tn:cTN,tf:cTF,lstm:cLSTM,gru:cGRU};
const EC={cyc:cErrCyc,gru:cErrGRU,lstm:cErrLSTM,tf:cErrTF,tn:cErrTN,cnn:cErrCNN};
const PD={trainCyc:dTrainCyc,trainCap:dTrainCap,cyc:dCyc,tru:dTrue,cnn:dCNN,tn:dTN,tf:dTF,lstm:dLSTM,gru:dGRU};
const ED={cyc:dErrCyc,gru:dErrGRU,lstm:dErrLSTM,tf:dErrTF,tn:dErrTN,cnn:dErrCNN};

const DOT=[2,2.6], DASH=[6,4];
const mainLeg = (anchor,dx,dy,w,h,font)=>({anchor,dx,dy,w,h,font,px:3,py:2,len:15,gap:3});
const insetLeg = (anchor,dx,dy,w,h)=>({anchor,dx,dy,w,h,font:4.4,px:2,py:1.5,len:10,gap:2});

// ----- (a)
const chA = makeChart({rect:[59.5,21,351,257], pad:[59.5,36,10,40],
  x:{min:aXTicks[0],max:aXTicks[aXTicks.length-1],ticks:aXTicks}, y:{min:1.1,max:1.9,ticks:aYTicks}, y2:{min:0,max:0.30,ticks:aY2Ticks},
  titles:{y:38,x:280,e:377},
  datasets:capSets(PA,[0,180],DOT,COL.eol).concat(errSets(EA)),
  deco:{frame:'top', vline:aPredStart, rect:aZoomBox, legend:mainLeg('tr',17,7,65,53,6.3),
    arrows:[[2,58.4,1.544,'Train period',24,1.581],[61,180,1.679,'Predict period',112.5,1.654]]}});
const inA = makeChart({rect:[383,21,514,257], pad:[6,6,10,20],
  x:{min:aInsetX[0],max:aInsetX[1],ticks:aInsetXTicks}, y:{min:aInsetY[0],max:aInsetY[1],ticks:aInsetYTicks,labels:false},
  datasets:capSets(PA,aInsetX,DOT,COL.eol),
  deco:{frame:'box', legend:insetLeg('tr',8,5.7,49,38)}});
// ----- (b)
const chB = makeChart({rect:[573,23.3,864,258.7], pad:[45,36,10,40],
  x:{min:0,max:180,ticks:bXTicks}, y:{min:bYRange[0],max:bYRange[1],ticks:bYTicks}, y2:{min:0,max:0.30,ticks:bY2Ticks},
  titles:{y:553,x:281.7,e:890},
  datasets:capSets(PB,[0,180],DOT,COL.eol).concat(errSets(EB)),
  deco:{frame:'top', vline:bPredStart, rect:bZoomBox, legend:mainLeg('tr',18,6,61,49,6),
    arrows:[[1.7,60,1.232,'Train period',34.7,1.264],[62,180,1.608,'Predict period',112.5,1.561]]}});
const inB = makeChart({rect:[898.3,24,1030.7,256.7], pad:[6,6,10,20],
  x:{min:bInsetX[0],max:bInsetX[1],ticks:bInsetXTicks}, y:{min:bInsetY[0],max:bInsetY[1],ticks:bInsetYTicks,labels:false},
  datasets:capSets(PB,bInsetX,DOT,COL.eol),
  deco:{frame:'box', legend:insetLeg('tr',8.7,5.3,46,36)}});
// ----- (c)
const chC = makeChart({rect:[62.3,352.7,350,584], pad:[62.3,40,10,40],
  x:{min:0,max:180,ticks:cXTicks}, y:{min:1.1,max:1.9,ticks:cYTicks}, y2:{min:0,max:0.30,ticks:cY2Ticks},
  titles:{y:38,x:610,e:381.7},
  datasets:capSets(PC,[0,180],DASH,'#6fa593').concat(errSets(EC)),
  deco:{frame:'top', vline:cPredStart, rect:cZoomBox, legend:mainLeg('tr',8.3,7.3,73,57,6.5),
    arrows:[[2,59,1.508,'Train period',28.8,1.529],[61,180,1.614,'Predict period',123.7,1.586]]}});
const inC = makeChart({rect:[389.3,350.7,514,586], pad:[6,6,10,20],
  x:{min:cInsetX[0],max:cInsetX[1],ticks:cInsetXTicks}, y:{min:cInsetY[0],max:cInsetY[1],ticks:cInsetYTicks,labels:false},
  datasets:capSets(PC,cInsetX,DASH,'#6fa593'),
  deco:{frame:'box', legend:insetLeg('tr',6.7,5.3,48,38)}});
// ----- (d)
const chD = makeChart({rect:[573.3,354.3,862.7,588.7], pad:[45,36,10,40],
  x:{min:0,max:140,ticks:dXTicks}, y:{min:1.0,max:1.9,ticks:dYTicks}, y2:{min:0,max:0.65,ticks:dY2Ticks},
  titles:{y:552.7,x:611.7,e:890},
  datasets:capSets(PD,[0,140],DOT,COL.eol).concat(errSets(ED)),
  deco:{frame:'top', vline:dPredStart, rect:dZoomBox, legend:mainLeg('bl',14.4,37,64,51,6.3),
    arrows:[[1.3,39,1.567,'Train period',21.8,1.539],[41,140,1.766,'Predict period',83.9,1.795]]}});
const inD = makeChart({rect:[899,354,1030.7,587.3], pad:[6,6,10,20],
  x:{min:dInsetX[0],max:dInsetX[1],ticks:dInsetXTicks}, y:{min:dInsetY[0],max:dInsetY[1],ticks:dInsetYTicks,labels:false},
  datasets:capSets(PD,dInsetX,DOT,COL.eol),
  deco:{frame:'box', legend:insetLeg('tl',7,5.3,37.5,31)}});

// ----- curved zoom arrows (overlay)
const ov=document.createElement('canvas'); ov.width=1080; ov.height=669;
ov.style.cssText='position:absolute;left:0;top:0;width:1080px;height:669px;pointer-events:none;';
document.getElementById('wrap').appendChild(ov);
const octx=ov.getContext('2d');
function pp(ch,x,y){ return [ch._left+ch.scales.x.getPixelForValue(x), ch._top+ch.scales.y.getPixelForValue(y)]; }
const curves=[
  {from:[chA,131,1.35], to:[inA,115.5,1.405], c1:[8,32], c2:[-71,48]},
  {from:[chB,117.5,1.287], to:[inB,92.9,1.388], c1:[37,22], c2:[-48,15]},
  {from:[chC,161.2,1.366], to:[inC,153.7,1.398], c1:[25,15], c2:[-35,18]},
  {from:[chD,104.8,1.659], to:[inD,86.5,1.5585], c1:[30,-19], c2:[-27,-23]}
];
octx.strokeStyle='#666'; octx.fillStyle='#666'; octx.lineWidth=1.5;
curves.forEach(c=>{
  const p0=pp(c.from[0],c.from[1],c.from[2]), p3=pp(c.to[0],c.to[1],c.to[2]);
  const q1=[p0[0]+c.c1[0],p0[1]+c.c1[1]], q2=[p3[0]+c.c2[0],p3[1]+c.c2[1]];
  const ang=Math.atan2(p3[1]-q2[1],p3[0]-q2[0]);
  const e=[p3[0]-5*Math.cos(ang), p3[1]-5*Math.sin(ang)];
  octx.beginPath(); octx.moveTo(p0[0],p0[1]); octx.bezierCurveTo(q1[0],q1[1],q2[0],q2[1],e[0],e[1]); octx.stroke();
  head(octx,p3[0],p3[1],ang,7,3.5);
});
</script>
</body></html>
